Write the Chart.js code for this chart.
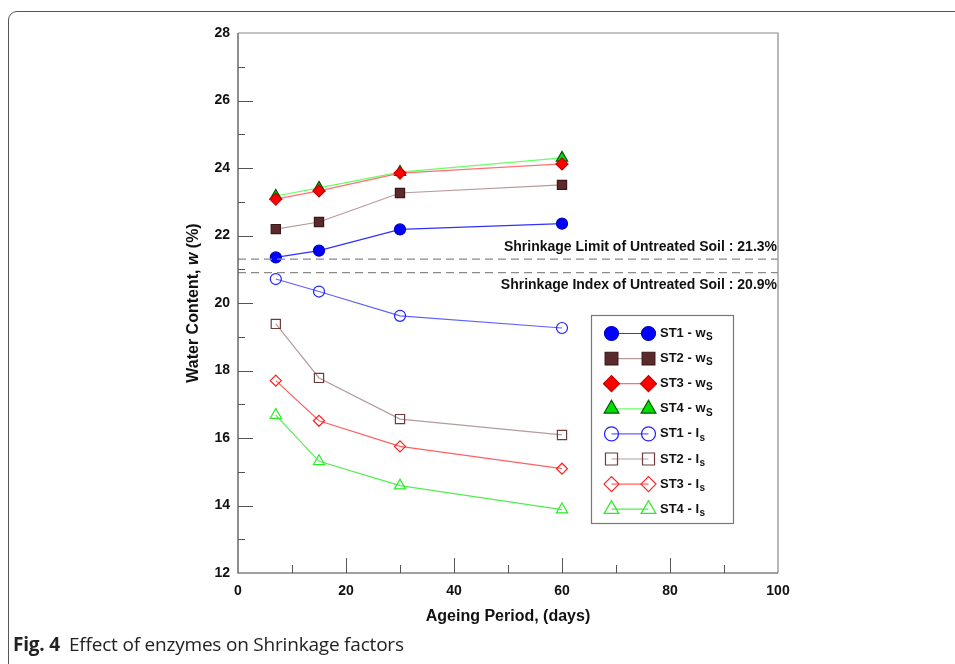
<!DOCTYPE html>
<html>
<head>
<meta charset="utf-8">
<script src="https://cdn.jsdelivr.net/npm/chart.js@4.4.0/dist/chart.umd.min.js"></script>
<style>
  body { margin: 0; background: #fff; overflow: hidden; }
  #frame { position: absolute; left: 8px; top: 11px; width: 1000px; height: 700px;
           border: 1.5px solid #555; border-radius: 9px; }
  #chart { position: absolute; left: 0; top: 0; }
  #caption { position: absolute; left: 13px; top: 632px; font-family: "Open Sans", sans-serif;
             font-size: 19px; line-height: 24px; color: #222; letter-spacing: -0.2px; white-space: nowrap; }
  #caption b { margin-right: 9px; }
</style>
</head>
<body>
<div id="frame"></div>
<canvas id="chart" width="955" height="664"></canvas>
<div id="caption"><b>Fig. 4</b>Effect of enzymes on Shrinkage factors</div>
<script>
// ageing period (days)
var days = [7, 15, 30, 60];

// water content, w (%)
var st1Ws = [21.35, 21.55, 22.18, 22.35];
var st2Ws = [22.19, 22.40, 23.26, 23.50];
var st3Ws = [23.08, 23.32, 23.85, 24.12];
var st4Ws = [23.17, 23.41, 23.88, 24.30];
var st1Ls = [20.71, 20.34, 19.62, 19.26];
var st2Ls = [19.38, 17.78, 16.56, 16.09];
var st3Ls = [17.70, 16.51, 15.75, 15.09];
var st4Ls = [16.68, 15.31, 14.59, 13.88];

// untreated soil reference levels
var shrinkLimit = 21.3;
var shrinkIndex = 20.9;
var refX = [0, 100];

var xTicks = [0, 20, 40, 60, 80, 100];
var yTicks = [12, 14, 16, 18, 20, 22, 24, 26, 28];

function pts(vals) {
  return vals.map(function(v, i) { return {x: days[i], y: v}; });
}
function flat(v) {
  return refX.map(function(x) { return {x: x, y: v}; });
}

var series = [
  {name: 'ST1 - w', sub: 'S', data: st1Ws, style: 'circle',   r: 5.5, fill: '#0000ff', edge: '#0000c0', line: '#3030ff', lr: 7},
  {name: 'ST2 - w', sub: 'S', data: st2Ws, style: 'rect',     r: 6.5, fill: '#5c2a2a', edge: '#3a1818', line: '#b89a9a', lr: 9},
  {name: 'ST3 - w', sub: 'S', data: st3Ws, style: 'rectRot',  r: 6,   fill: '#ff0000', edge: '#c00000', line: '#ff7070', lr: 8},
  {name: 'ST4 - w', sub: 'S', data: st4Ws, style: 'triangle', r: 6.5, fill: '#00dd00', edge: '#005500', line: '#66ff66', lr: 8.5},
  {name: 'ST1 - I', sub: 's', data: st1Ls, style: 'circle',   r: 5.5, fill: 'rgba(0,0,0,0)', edge: '#2020ff', line: '#6060ff', lr: 7},
  {name: 'ST2 - I', sub: 's', data: st2Ls, style: 'rect',     r: 6.5, fill: 'rgba(0,0,0,0)', edge: '#6e3c3c', line: '#b49c9c', lr: 8.5},
  {name: 'ST3 - I', sub: 's', data: st3Ls, style: 'rectRot',  r: 5.5, fill: 'rgba(0,0,0,0)', edge: '#ff2020', line: '#ff6060', lr: 7.5},
  {name: 'ST4 - I', sub: 's', data: st4Ls, style: 'triangle', r: 6.5, fill: 'rgba(0,0,0,0)', edge: '#22ee22', line: '#50ee50', lr: 8.5}
];

var datasets = [
  {label: 'limit', data: flat(shrinkLimit), borderColor: '#8a8a8a', borderWidth: 1.2,
   borderDash: [8, 5], pointRadius: 0},
  {label: 'index', data: flat(shrinkIndex), borderColor: '#8a8a8a', borderWidth: 1.2,
   borderDash: [8, 5], pointRadius: 0}
];
series.forEach(function(s) {
  datasets.push({
    label: s.name + s.sub,
    data: pts(s.data),
    borderColor: s.line,
    borderWidth: 1.2,
    pointStyle: s.style,
    pointRadius: s.r,
    pointBackgroundColor: s.fill,
    pointBorderColor: s.edge,
    pointBorderWidth: 1.2
  });
});

var FONT = '"Liberation Sans", Arial, sans-serif';

var decor = {
  id: 'decor',
  afterDraw: function(chart) {
    var ctx = chart.ctx, a = chart.chartArea;
    var xs = chart.scales.x, ys = chart.scales.y;
    ctx.save();

    // plot box
    ctx.lineWidth = 1.2;
    ctx.strokeStyle = '#8a8a8a';
    ctx.beginPath();
    ctx.moveTo(a.left, a.top); ctx.lineTo(a.right, a.top); ctx.lineTo(a.right, a.bottom);
    ctx.stroke();
    ctx.strokeStyle = '#444';
    ctx.beginPath();
    ctx.moveTo(a.left, a.top); ctx.lineTo(a.left, a.bottom); ctx.lineTo(a.right, a.bottom);
    ctx.stroke();

    // inward ticks
    ctx.strokeStyle = '#555';
    ctx.lineWidth = 1;
    ctx.beginPath();
    for (var v = 13; v < 28; v++) {
      var y = Math.round(ys.getPixelForValue(v)) + 0.5;
      var len = (v % 2 === 0) ? 15 : 7;
      ctx.moveTo(a.left, y); ctx.lineTo(a.left + len, y);
    }
    for (var d = 10; d < 100; d += 10) {
      var x = Math.round(xs.getPixelForValue(d)) + 0.5;
      var l2 = (d % 20 === 0) ? 15 : 8;
      ctx.moveTo(x, a.bottom); ctx.lineTo(x, a.bottom - l2);
    }
    ctx.stroke();

    // reference labels
    ctx.fillStyle = '#111';
    ctx.font = 'bold 14px ' + FONT;
    ctx.textAlign = 'right';
    ctx.textBaseline = 'middle';
    ctx.fillText('Shrinkage Limit of Untreated Soil : 21.3%', a.right - 1, ys.getPixelForValue(shrinkLimit) - 12);
    ctx.fillText('Shrinkage Index of Untreated Soil : 20.9%', a.right - 1, ys.getPixelForValue(shrinkIndex) + 13);

    // x title
    ctx.textAlign = 'center';
    ctx.font = 'bold 16px ' + FONT;
    ctx.fillText('Ageing Period, (days)', (a.left + a.right) / 2, 617);

    // y title with italic w
    var p1 = 'Water Content, ', p2 = 'w', p3 = ' (%)';
    ctx.font = 'bold 16px ' + FONT;
    var w1 = ctx.measureText(p1).width, w3 = ctx.measureText(p3).width;
    ctx.font = 'italic bold 16px ' + FONT;
    var w2 = ctx.measureText(p2).width;
    var total = w1 + w2 + w3;
    ctx.translate(194, (a.top + a.bottom) / 2);
    ctx.rotate(-Math.PI / 2);
    ctx.textAlign = 'left';
    ctx.font = 'bold 16px ' + FONT;
    ctx.fillText(p1, -total / 2, 0);
    ctx.font = 'italic bold 16px ' + FONT;
    ctx.fillText(p2, -total / 2 + w1, 0);
    ctx.font = 'bold 16px ' + FONT;
    ctx.fillText(p3, -total / 2 + w1 + w2, 0);
    ctx.restore();

    // legend box
    ctx.save();
    var bx = 591.5, by = 315.5, bw = 142, bh = 208;
    ctx.fillStyle = '#fff';
    ctx.fillRect(bx, by, bw, bh);
    ctx.strokeStyle = '#777';
    ctx.lineWidth = 1.2;
    ctx.strokeRect(bx, by, bw, bh);
    series.forEach(function(s, i) {
      var y = 333.5 + i * 25.1;
      ctx.strokeStyle = s.line;
      ctx.lineWidth = 1.2;
      ctx.beginPath();
      ctx.moveTo(611.5, y); ctx.lineTo(648.5, y);
      ctx.stroke();
      [611.5, 648.5].forEach(function(mx) {
        ctx.fillStyle = s.fill;
        ctx.strokeStyle = s.edge;
        ctx.lineWidth = 1.2;
        Chart.helpers.drawPoint(ctx, {pointStyle: s.style, radius: s.lr, borderWidth: 1.2, rotation: 0}, mx, y);
      });
      ctx.fillStyle = '#111';
      ctx.textAlign = 'left';
      ctx.textBaseline = 'middle';
      ctx.font = 'bold 13px ' + FONT;
      ctx.fillText(s.name, 660, y);
      var tw = ctx.measureText(s.name).width;
      ctx.font = 'bold 10px ' + FONT;
      ctx.fillText(s.sub, 660 + tw + 0.5, y + 4);
    });
    ctx.restore();
  }
};

var ctx = document.getElementById('chart').getContext('2d');
var chart = new Chart(ctx, {
  type: 'line',
  data: {datasets: datasets},
  options: {
    responsive: false,
    animation: false,
    devicePixelRatio: 1,
    layout: {padding: {left: 178, right: 177, top: 33, bottom: 31}},
    plugins: {legend: {display: false}, tooltip: {enabled: false}},
    elements: {line: {tension: 0}},
    scales: {
      x: {
        type: 'linear', min: 0, max: 100,
        afterFit: function(s) { s.height = 60; },
        afterBuildTicks: function(s) { s.ticks = xTicks.map(function(v) { return {value: v}; }); },
        ticks: {color: '#111', font: {family: FONT, size: 14, weight: 'bold'}, padding: 10, maxRotation: 0},
        grid: {display: false, drawTicks: false},
        border: {display: false}
      },
      y: {
        type: 'linear', min: 12, max: 28,
        afterFit: function(s) { s.width = 60; },
        afterBuildTicks: function(s) { s.ticks = yTicks.map(function(v) { return {value: v}; }); },
        ticks: {color: '#111', font: {family: FONT, size: 14, weight: 'bold'}, padding: 8},
        grid: {display: false, drawTicks: false},
        border: {display: false}
      }
    }
  },
  plugins: [decor]
});
</script>
</body>
</html>
